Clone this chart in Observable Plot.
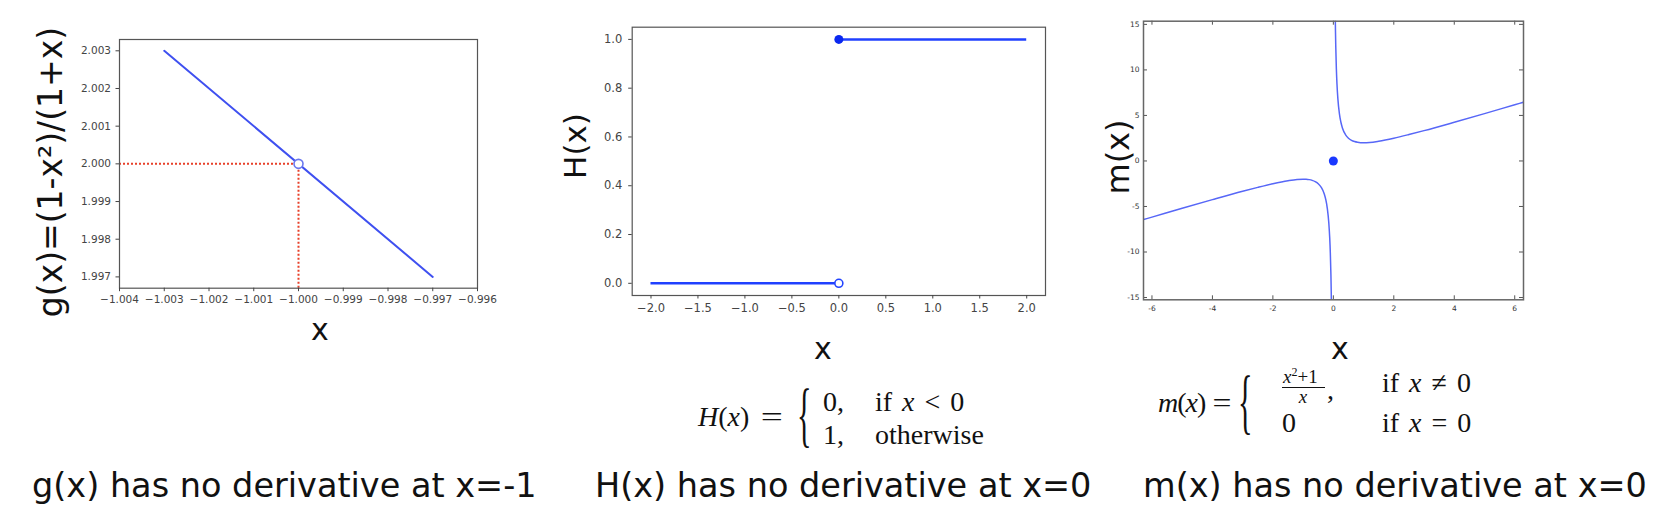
<!DOCTYPE html>
<html><head><meta charset="utf-8">
<script src="https://cdn.jsdelivr.net/npm/d3@7"></script>
<script src="https://cdn.jsdelivr.net/npm/@observablehq/plot@0.6"></script>
<style>
html,body{margin:0;padding:0;background:#fff;}
#root{position:relative;width:1672px;height:522px;overflow:hidden;background:#fff;}
.abs{position:absolute;white-space:nowrap;line-height:1;}
.hand{font-family:"DejaVu Sans",sans-serif;color:#111;}
.serif{font-family:"Liberation Serif","Times New Roman",serif;color:#111;}
</style></head><body><div id="root"></div>
<script>
// ---------- data: g(x) = (1-x^2)/(1+x) ----------
const gLineX = [-1.003, -0.997];
const gLineY = [2.003, 1.997];
const gHoleX = [-1.0];
const gHoleY = [2.0];
const gXDomain = [-1.004, -0.996];
const gYDomain = [1.9967, 2.0033];
const gXTicks = [-1.004, -1.003, -1.002, -1.001, -1.000, -0.999, -0.998, -0.997, -0.996];
const gYTicks = [1.997, 1.998, 1.999, 2.000, 2.001, 2.002, 2.003];

// ---------- data: H(x) ----------
const hSegX1 = [-2, 0];
const hSegX2 = [0, 2];
const hSegY = [0, 1];
const hOpenX = [0], hOpenY = [0];
const hFilledX = [0], hFilledY = [1];
const hXDomain = [-2.2, 2.2];
const hYDomain = [-0.05, 1.05];
const hXTicks = [-2, -1.5, -1, -0.5, 0, 0.5, 1, 1.5, 2];
const hYTicks = [0, 0.2, 0.4, 0.6, 0.8, 1.0];

// ---------- data: m(x) ----------
const mLeftX = [-6.28, -6, -5, -4, -3, -2.5, -2, -1.5, -1.2, -1.0, -0.9, -0.8, -0.7, -0.6, -0.5, -0.4, -0.3, -0.25, -0.2, -0.15, -0.12, -0.1, -0.08, -0.07, -0.06];
const mLeftY = [-6.44, -6.17, -5.2, -4.25, -3.33, -2.9, -2.5, -2.17, -2.03, -2.0, -2.01, -2.05, -2.13, -2.27, -2.5, -2.9, -3.63, -4.25, -5.2, -6.82, -8.45, -10.1, -12.58, -14.36, -16.73];
const mRightX = [0.06, 0.07, 0.08, 0.1, 0.12, 0.15, 0.2, 0.25, 0.3, 0.4, 0.5, 0.6, 0.7, 0.8, 0.9, 1.0, 1.2, 1.5, 2, 2.5, 3, 4, 5, 6, 6.28];
const mRightY = [16.73, 14.36, 12.58, 10.1, 8.45, 6.82, 5.2, 4.25, 3.63, 2.9, 2.5, 2.27, 2.13, 2.05, 2.01, 2.0, 2.03, 2.17, 2.5, 2.9, 3.33, 4.25, 5.2, 6.17, 6.44];
const mDotX = [0], mDotY = [0];
const mXDomain = [-6.28, 6.29];
const mYDomain = [-15.25, 15.35];
const mXTicks = [-6, -4, -2, 0, 2, 4, 6];
const mYTicks = [-15, -10, -5, 0, 5, 10, 15];

// ---------- text ----------
const gYLabel = "g(x)=(1-x²)/(1+x)";
const hYLabel = "H(x)";
const mYLabel = "m(x)";
const xLabel = "x";
const captions = ["g(x) has no derivative at x=-1", "H(x) has no derivative at x=0", "m(x) has no derivative at x=0"];

// ---------- helpers ----------
const root = document.getElementById("root");
const minus = s => s.replace("-", "\u2212");
const fmt = n => d => minus(d.toFixed(n));
function place(svg, left, top) {
  svg.style.position = "absolute";
  svg.style.left = left + "px";
  svg.style.top = top + "px";
  root.appendChild(svg);
}
function centered(html, cx, cy, cls, size, rot) {
  const d = document.createElement("div");
  d.className = "abs " + cls;
  d.style.fontSize = size + "px";
  d.style.left = cx + "px";
  d.style.top = cy + "px";
  d.style.transform = "translate(-50%,-50%)" + (rot ? " rotate(-90deg)" : "");
  d.innerHTML = html;
  root.appendChild(d);
  return d;
}
function leftAt(html, left, cy, cls, size, extra) {
  const d = document.createElement("div");
  d.className = "abs " + cls;
  d.style.fontSize = size + "px";
  d.style.left = left + "px";
  d.style.top = cy + "px";
  d.style.transform = "translateY(-50%)" + (extra || "");
  d.innerHTML = html;
  root.appendChild(d);
  return d;
}

// ---------- chart 1 ----------
const gLine = gLineX.map((x, i) => ({x, y: gLineY[i]}));
const gHole = gHoleX.map((x, i) => ({x, y: gHoleY[i]}));
const gGuideH = gHole.map(p => ({x1: gXDomain[0], x2: p.x, y: p.y}));
const gGuideV = gHole.map(p => ({x: p.x, y1: gYDomain[0], y2: p.y}));
const c1W = 560, c1H = 340;
place(Plot.plot({
  width: c1W, height: c1H,
  marginLeft: 119, marginRight: c1W - 477, marginTop: 39, marginBottom: c1H - 287.7,
  x: {domain: gXDomain}, y: {domain: gYDomain},
  style: {color: "#444", fontFamily: "DejaVu Sans", background: "transparent", overflow: "visible"},
  marks: [
    Plot.ruleY(gGuideH, {x1: "x1", x2: "x2", y: "y", stroke: "#e8402a", strokeWidth: 2, strokeDasharray: "2,2"}),
    Plot.ruleX(gGuideV, {x: "x", y1: "y1", y2: "y2", stroke: "#e8402a", strokeWidth: 2, strokeDasharray: "2,2"}),
    Plot.line(gLine, {x: "x", y: "y", stroke: "#3f50f0", strokeWidth: 2}),
    Plot.dot(gHole, {x: "x", y: "y", r: 4.5, stroke: "#6a78ee", fill: "white", strokeWidth: 1.6}),
    Plot.frame({stroke: "#555", strokeWidth: 1.2}),
    Plot.axisX({ticks: gXTicks, tickFormat: fmt(3), tickSize: 3.5, tickPadding: 4, fontSize: 10.5, label: null}),
    Plot.axisY({ticks: gYTicks, tickFormat: fmt(3), tickSize: 3.5, tickPadding: 5, fontSize: 10.5, label: null})
  ]
}), 0, 0);

// ---------- chart 2 ----------
const hSegs = hSegX1.map((x1, i) => ({x1, x2: hSegX2[i], y: hSegY[i]}));
const hOpen = hOpenX.map((x, i) => ({x, y: hOpenY[i]}));
const hFilled = hFilledX.map((x, i) => ({x, y: hFilledY[i]}));
const c2L = 560, c2W = 520, c2H = 340;
place(Plot.plot({
  width: c2W, height: c2H,
  marginLeft: 631.7 - c2L, marginRight: c2L + c2W - 1045, marginTop: 26.7, marginBottom: c2H - 295,
  x: {domain: hXDomain}, y: {domain: hYDomain},
  style: {color: "#444", fontFamily: "DejaVu Sans", background: "transparent", overflow: "visible"},
  marks: [
    Plot.ruleY(hSegs, {x1: "x1", x2: "x2", y: "y", stroke: "#2040ff", strokeWidth: 2.5}),
    Plot.dot(hOpen, {x: "x", y: "y", r: 4, stroke: "#2244ff", fill: "white", strokeWidth: 1.6}),
    Plot.dot(hFilled, {x: "x", y: "y", r: 4.5, fill: "#0a28f0"}),
    Plot.frame({stroke: "#555", strokeWidth: 1.2}),
    Plot.axisX({ticks: hXTicks, tickFormat: fmt(1), tickSize: 3.5, tickPadding: 4.5, fontSize: 11.5, label: null}),
    Plot.axisY({ticks: hYTicks, tickFormat: fmt(1), tickSize: 3.5, tickPadding: 6.5, fontSize: 11.5, label: null})
  ]
}), c2L, 0);

// ---------- chart 3 ----------
const mData = [
  ...mLeftX.map((x, i) => ({x, y: mLeftY[i], b: "left"})),
  ...mRightX.map((x, i) => ({x, y: mRightY[i], b: "right"}))
];
const mDot = mDotX.map((x, i) => ({x, y: mDotY[i]}));
const c3L = 1080, c3W = 592, c3H = 340;
const frameL = 1143, frameR = 1523, frameT = 20.7, frameB = 299.3;
const tyLen = 4 * (mYDomain[1] - mYDomain[0]) / (frameB - frameT);
const txLen = 4 * (mXDomain[1] - mXDomain[0]) / (frameR - frameL);
place(Plot.plot({
  width: c3W, height: c3H,
  marginLeft: frameL - c3L, marginRight: c3L + c3W - frameR, marginTop: frameT, marginBottom: c3H - frameB,
  x: {domain: mXDomain}, y: {domain: mYDomain},
  style: {color: "#333", fontFamily: "DejaVu Sans", background: "transparent", overflow: "visible"},
  marks: [
    Plot.line(mData, {x: "x", y: "y", z: "b", curve: "monotone-x", stroke: "#5767f7", strokeWidth: 1.5, clip: true}),
    Plot.dot(mDot, {x: "x", y: "y", r: 4.5, fill: "#1a38ff"}),
    Plot.ruleX(mXTicks, {x: d => d, y1: mYDomain[0], y2: mYDomain[0] + tyLen, stroke: "#555"}),
    Plot.ruleX(mXTicks, {x: d => d, y1: mYDomain[1], y2: mYDomain[1] - tyLen, stroke: "#555"}),
    Plot.ruleY(mYTicks, {y: d => d, x1: mXDomain[0], x2: mXDomain[0] + txLen, stroke: "#555"}),
    Plot.ruleY(mYTicks, {y: d => d, x1: mXDomain[1], x2: mXDomain[1] - txLen, stroke: "#555"}),
    Plot.frame({stroke: "#666", strokeWidth: 1.5}),
    Plot.axisX({ticks: mXTicks, tickFormat: d => String(d), tickSize: 0, tickPadding: 6, fontSize: 7.5, label: null}),
    Plot.axisY({ticks: mYTicks, tickFormat: d => String(d), tickSize: 0, tickPadding: 4, fontSize: 7.5, label: null})
  ]
}), c3L, 0);

// ---------- handwritten axis labels ----------
centered(gYLabel, 50, 172, "hand", 33, true);
centered(xLabel, 320, 330, "hand", 30, false);
centered(hYLabel, 575, 146, "hand", 31, true);
centered(xLabel, 823, 349, "hand", 30, false);
centered(mYLabel, 1118, 157, "hand", 32, true);
centered(xLabel, 1340, 349, "hand", 30, false);

// ---------- captions ----------
const capLeft = [32, 595, 1143];
captions.forEach((c, i) => leftAt(c, capLeft[i], 486, "hand", 33.5));

// ---------- formula H ----------
const FS = 28;
leftAt("<i>H</i>(<i>x</i>)", 698, 417, "serif", FS);
leftAt("=", 764, 417, "serif", FS, " scaleX(1.4)");
leftAt("{", 797, 414, "serif", 72, " scaleX(0.42)").style.transformOrigin = "left center";
leftAt("0,", 823, 402, "serif", FS);
leftAt("if&nbsp;<i>x</i>&nbsp;&lt;&nbsp;0", 875, 402, "serif", FS).style.wordSpacing = "3px";
leftAt("1,", 823, 435, "serif", FS);
leftAt("otherwise", 875, 435, "serif", FS);

// ---------- formula m ----------
leftAt("<i>m</i>(<i>x</i>)", 1158, 403, "serif", FS).style.letterSpacing = "-1px";
leftAt("=", 1214, 403, "serif", FS, " scaleX(1.2)");
leftAt("{", 1238, 401, "serif", 72, " scaleX(0.42)").style.transformOrigin = "left center";
const num = leftAt("<i>x</i><sup style='font-size:12px;vertical-align:7px'>2</sup>+1", 1283, 376, "serif", 19);
num.style.lineHeight = "0.8";
const bar = document.createElement("div");
bar.className = "abs";
Object.assign(bar.style, {left: "1282px", top: "387px", width: "43px", height: "0", borderTop: "1.2px solid #111"});
root.appendChild(bar);
centered("<i>x</i>", 1303, 397, "serif", 19, false).style.lineHeight = "0.8";
leftAt(",", 1327, 390, "serif", FS);
leftAt("if&nbsp;<i>x</i>&nbsp;&ne;&nbsp;0", 1382, 383, "serif", FS).style.wordSpacing = "3px";
leftAt("0", 1282, 423, "serif", FS);
leftAt("if&nbsp;<i>x</i>&nbsp;=&nbsp;0", 1382, 423, "serif", FS).style.wordSpacing = "3px";
</script>
</body></html>
